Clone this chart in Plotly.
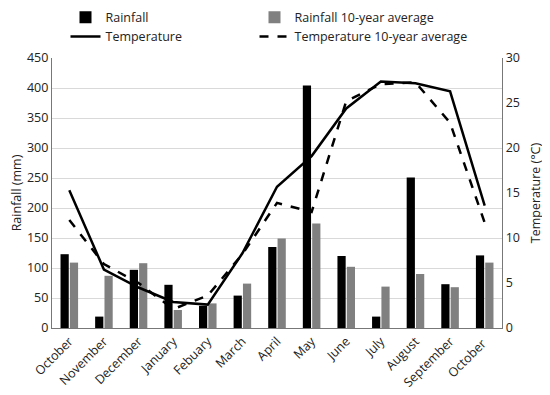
import plotly.graph_objects as go

months = ["October", "November", "December", "January", "Febuary", "March", "April",
          "May", "June", "July", "August", "September", "October "]
rainfall = [123, 19, 97, 72, 37, 54, 135, 404, 120, 19, 251, 73, 121]
rainfall_avg = [109, 87, 108, 30, 41, 74, 149, 174, 102, 69, 90, 68, 109]
temperature = [15.3, 6.5, 4.5, 2.9, 2.6, 8.3, 15.7, 19.1, 24.4, 27.4, 27.2, 26.3, 13.6]
temperature_avg = [12.0, 7.1, 5.0, 2.1, 3.6, 8.2, 13.9, 12.9, 25.2, 27.1, 27.3, 22.8, 11.7]

font = "Open Sans, Liberation Sans, sans-serif"

fig = go.Figure()
fig.add_trace(go.Bar(x=months, y=rainfall, name="Rainfall", marker_color="black",
                     marker_line_width=0, legend="legend"))
fig.add_trace(go.Bar(x=months, y=rainfall_avg, name="Rainfall 10-year average",
                     marker_color="#808080", marker_line_width=0, legend="legend2"))
fig.add_trace(go.Scatter(x=months, y=temperature, name="Temperature", yaxis="y2",
                         mode="lines", line=dict(color="black", width=2.5), legend="legend"))
fig.add_trace(go.Scatter(x=months, y=temperature_avg, name="Temperature 10-year average",
                         yaxis="y2", mode="lines", legend="legend2",
                         line=dict(color="black", width=2.5, dash="dash")))

leg_common = dict(orientation="v", yref="paper", y=1.205, yanchor="top",
                  xanchor="left", itemwidth=30, font=dict(size=12.5),
                  bgcolor="rgba(0,0,0,0)", tracegroupgap=0, traceorder="normal")

# page body adds an 8px offset, so the figure is sized 8px smaller and shifted
fig.update_layout(
    width=542, height=387,
    margin=dict(l=44, r=48, t=50, b=67, autoexpand=False),
    paper_bgcolor="white", plot_bgcolor="white",
    font=dict(family=font, size=12, color="#222"),
    barmode="group", bargap=0.46, bargroupgap=0.12,
    showlegend=True,
    legend=dict(x=0.03, **leg_common),
    legend2=dict(x=0.45, **leg_common),
    xaxis=dict(tickangle=-45, showline=True, linecolor="#777", linewidth=1.3,
               showgrid=False, ticks="", tickfont=dict(size=12.5)),
    yaxis=dict(range=[0, 450], dtick=50, showline=True, linecolor="#777", linewidth=1.3,
               gridcolor="#d9d9d9", gridwidth=1, zeroline=False, ticks="",
               title=dict(text="Rainfall (mm)", font=dict(size=12.5), standoff=6),
               tickfont=dict(size=12.5)),
    yaxis2=dict(range=[0, 30], dtick=5, overlaying="y", side="right", showline=True,
                linecolor="#777", linewidth=1.3, showgrid=False, zeroline=False, ticks="",
                title=dict(text="Temperature (°C)", font=dict(size=12.5), standoff=12),
                tickfont=dict(size=12.5)),
)

fig.write_html("out.html")
